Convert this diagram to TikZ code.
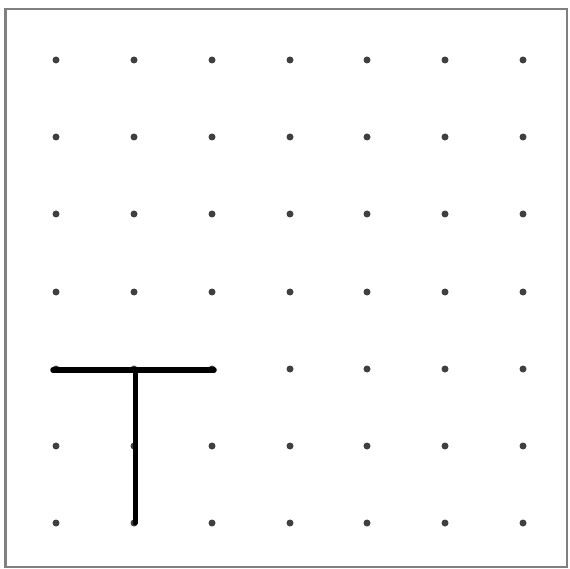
\documentclass[tikz,border=0pt]{standalone}
\begin{document}
\begin{tikzpicture}[x=1pt,y=-1pt,
  gdot/.style={circle,fill=black!75,inner sep=0pt,minimum size=7pt},
  tline/.style={line width=5.5pt,line cap=round,black}]
\useasboundingbox (0,0) rectangle (570,569);
\draw[black!50,line width=2.2pt] (5.5,9) rectangle (567,567);
\foreach \c [count=\i from 0] in {56,134,212,290,367,445,523}{
  \foreach \r [count=\j from 0] in {60,137,214,292,369,446,523}{
    \node[gdot] (d\i\j) at (\c,\r) {};
  }
}
\coordinate (tl) at (53,370);
\coordinate (tr) at (214,370);
\coordinate (tm) at (135,370);
\coordinate (tb) at (135,523);
\draw[tline] (tl) -- (tr);
\draw[line width=5pt,line cap=round] (tm) -- (tb);
\end{tikzpicture}
\end{document}
